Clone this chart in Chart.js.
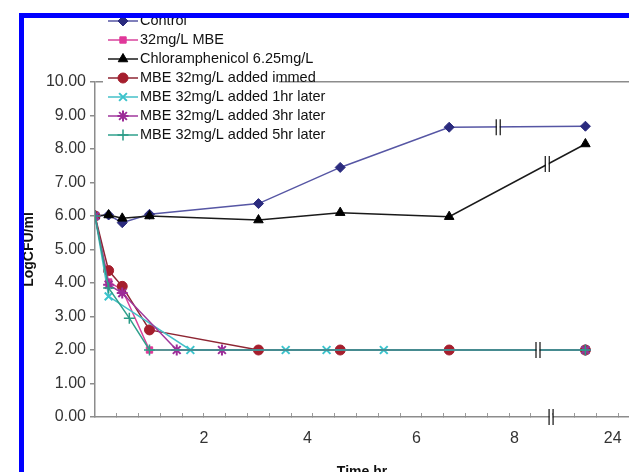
<!DOCTYPE html>
<html>
<head>
<meta charset="utf-8">
<script src="https://cdn.jsdelivr.net/npm/chart.js@4.4.1/dist/chart.umd.min.js"></script>
<style>
  html, body { margin: 0; padding: 0; background: #fff; overflow: hidden; }
  #wrap { position: relative; width: 629px; height: 490px; }
</style>
</head>
<body>
<div id="wrap"><canvas id="killChart" width="629" height="490"></canvas></div>
<script>
// time points (hr, 24 hr sample drawn at 9 on the broken axis) and log CFU/ml values
const controlT = [0, 0.25, 0.5, 1, 3, 4.5, 6.5, 9];
const controlV = [6.0, 6.03, 5.8, 6.05, 6.37, 7.45, 8.65, 8.68];
const mbeT = [0, 0.25, 0.5, 1, 3, 4.5, 6.5, 9];
const mbeV = [6.0, 4.03, 3.8, 2.0, 2.0, 2.0, 2.0, 2.0];
const chlorT = [0, 0.25, 0.5, 1, 3, 4.5, 6.5, 9];
const chlorV = [6.0, 6.03, 5.93, 6.0, 5.88, 6.1, 5.98, 8.15];
const immedT = [0, 0.25, 0.5, 1, 3, 4.5, 6.5, 9];
const immedV = [6.0, 4.37, 3.9, 2.6, 2.0, 2.0, 2.0, 2.0];
const oneHrT = [0, 0.25, 1.75, 3.5, 4.25, 5.3, 9];
const oneHrV = [6.0, 3.6, 2.0, 2.0, 2.0, 2.0, 2.0];
const threeHrT = [0, 0.25, 0.5, 1.5, 2.33, 9];
const threeHrV = [6.0, 3.95, 3.7, 2.0, 2.0, 2.0];
const fiveHrT = [0, 0.25, 0.63, 1, 9];
const fiveHrV = [6.0, 3.85, 2.95, 2.0, 2.0];

// x tick labels and where they sit on the axis
const xLabelPos = [2, 3.9, 5.9, 7.7, 9.5];
const xLabelText = ['2', '4', '6', '8', '24'];
const minorStep = 0.4;

// "||" axis-break marks (x, y in data units)
const breakX = [7.4, 8.3, 8.13, 8.37];
const breakY = [8.65, 7.55, 2.0, 0];

const FONT = "'Liberation Sans', Arial, sans-serif";

function pts(t, v) {
  return t.map((x, i) => ({ x: x, y: v[i] }));
}

function series(label, t, v, line, mark, style, radius, pbw, order) {
  return {
    label: label,
    data: pts(t, v),
    borderColor: line,
    borderWidth: 1.5,
    pointStyle: style,
    pointRadius: radius,
    pointBackgroundColor: mark,
    pointBorderColor: mark,
    pointBorderWidth: pbw,
    tension: 0,
    order: order
  };
}

// later series are painted over earlier ones, as in the original
const datasets = [
  series('Control', controlT, controlV, '#5656a4', '#2b2b7e', 'rectRot', 5, 1, 7),
  series('32mg/L MBE', mbeT, mbeV, '#d8439c', '#e0389a', 'rect', 4.5, 1, 6),
  series('Chloramphenicol 6.25mg/L', chlorT, chlorV, '#1a1a1a', '#000000', 'triangle', 5.5, 1, 5),
  series('MBE 32mg/L added immed', immedT, immedV, '#8e2633', '#a51e2d', 'circle', 5, 1, 4),
  series('MBE 32mg/L added 1hr later', oneHrT, oneHrV, '#44c0c8', '#3bc3cc', 'crossRot', 5.5, 2, 3),
  series('MBE 32mg/L added 3hr later', threeHrT, threeHrV, '#a0379c', '#9c2c98', 'star', 5.5, 2, 2),
  series('MBE 32mg/L added 5hr later', fiveHrT, fiveHrV, '#2fa08c', '#2a9b86', 'cross', 5.5, 1.5, 1)
];

// --- legend drawn in the top-left, like the original ---
const legendBox = {
  id: 'legendBox',
  afterDraw(chart) {
    const ctx = chart.ctx;
    ctx.save();
    ctx.fillStyle = '#fff';
    ctx.fillRect(103, 14, 176, 132);
    ctx.font = '14.5px ' + FONT;
    ctx.textBaseline = 'middle';
    chart.data.datasets.forEach((ds, i) => {
      const y = 21 + i * 19;
      ctx.strokeStyle = ds.borderColor;
      ctx.lineWidth = 1.5;
      ctx.beginPath();
      ctx.moveTo(108, y);
      ctx.lineTo(138, y);
      ctx.stroke();
      ctx.fillStyle = ds.pointBackgroundColor;
      ctx.strokeStyle = ds.pointBorderColor;
      ctx.lineWidth = ds.pointBorderWidth;
      Chart.helpers.drawPoint(ctx, {
        pointStyle: ds.pointStyle, radius: ds.pointRadius, rotation: 0, borderWidth: ds.pointBorderWidth
      }, 123, y);
      ctx.fillStyle = '#111';
      ctx.fillText(ds.label, 140, y);
    });
    ctx.restore();
  }
};

// --- break marks on lines and axis ---
const breakMarks = {
  id: 'breakMarks',
  afterDatasetsDraw(chart) {
    const { ctx, scales } = chart;
    ctx.save();
    breakX.forEach((bx, i) => {
      const px = scales.x.getPixelForValue(bx);
      const py = scales.y.getPixelForValue(breakY[i]);
      ctx.fillStyle = '#fff';
      ctx.fillRect(px - 1.5, py - 2, 3, 4);
      ctx.strokeStyle = '#111';
      ctx.lineWidth = 1.2;
      ctx.beginPath();
      ctx.moveTo(px - 2, py - 8); ctx.lineTo(px - 2, py + 8);
      ctx.moveTo(px + 2, py - 8); ctx.lineTo(px + 2, py + 8);
      ctx.stroke();
    });
    ctx.restore();
  }
};

// --- blue frame of the figure ---
const frame = {
  id: 'frame',
  afterDraw(chart) {
    const ctx = chart.ctx;
    ctx.save();
    ctx.fillStyle = '#0000ff';
    ctx.fillRect(19, 13, 629 - 19, 5);
    ctx.fillRect(19, 13, 5, 490);
    ctx.restore();
  }
};

const ctx = document.getElementById('killChart').getContext('2d');
new Chart(ctx, {
  type: 'line',
  data: { datasets: datasets },
  options: {
    responsive: false,
    animation: false,
    layout: { autoPadding: false, padding: { top: 82, right: 0, bottom: 0, left: 0 } },
    plugins: { legend: { display: false }, tooltip: { enabled: false } },
    scales: {
      x: {
        type: 'linear',
        min: 0,
        max: 9.8,
        afterBuildTicks(scale) {
          const vals = [];
          for (let v = minorStep; v < scale.max; v += minorStep) vals.push(+v.toFixed(2));
          xLabelPos.forEach(p => { if (!vals.includes(p)) vals.push(p); });
          vals.sort((a, b) => a - b);
          scale.ticks = vals.map(v => ({ value: v }));
        },
        afterFit(scale) {
          scale.height = 490 - 417;
          scale.paddingLeft = 0;
          scale.paddingRight = 0;
        },
        ticks: {
          autoSkip: false,
          maxRotation: 0,
          padding: 16,
          color: '#333',
          font: { family: FONT, size: 16 },
          callback(v) {
            const k = xLabelPos.indexOf(+(+v).toFixed(2));
            return k >= 0 ? xLabelText[k] : '';
          }
        },
        grid: {
          drawOnChartArea: false,
          tickLength: -4,
          tickColor(c) {
            const v = c.tick ? +c.tick.value.toFixed(2) : 0;
            const onStep = Math.abs(v / minorStep - Math.round(v / minorStep)) < 0.01;
            return onStep ? '#9a9a9a' : 'rgba(0,0,0,0)';
          }
        },
        border: { color: '#8c8c8c', width: 1.5 },
        title: {
          display: true,
          text: 'Time hr',
          color: '#111',
          font: { family: FONT, size: 14, weight: 'bold' },
          padding: { top: 0, bottom: 9 }
        }
      },
      y: {
        min: 0,
        max: 10,
        afterFit(scale) { scale.width = 95; },
        ticks: {
          stepSize: 1,
          padding: 4,
          color: '#333',
          font: { family: FONT, size: 16 },
          callback: v => (+v).toFixed(2)
        },
        grid: {
          color: c => (c.tick && c.tick.value === 10 ? '#8c8c8c' : 'rgba(0,0,0,0)'),
          lineWidth: 1.5,
          tickColor: '#8c8c8c',
          tickLength: 5
        },
        border: { color: '#8c8c8c', width: 1.5 },
        title: {
          display: true,
          text: 'LogCFU/ml',
          color: '#111',
          font: { family: FONT, size: 14, weight: 'bold' },
          padding: { top: 21, bottom: 0 }
        }
      }
    }
  },
  plugins: [breakMarks, legendBox, frame]
});
</script>
</body>
</html>
